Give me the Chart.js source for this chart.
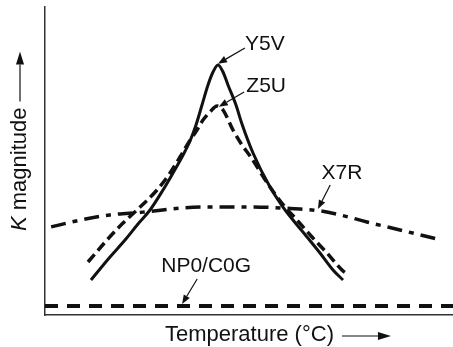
<!DOCTYPE html>
<html>
<head>
<meta charset="utf-8">
<script src="https://cdn.jsdelivr.net/npm/chart.js@4.4.1/dist/chart.umd.min.js"></script>
<style>
  html, body { margin: 0; padding: 0; background: #fff; }
</style>
</head>
<body>
<canvas id="kChart" width="453" height="347"></canvas>
<script>
// Relative K vs temperature for the ceramic dielectric classes (arbitrary units, 0-100)
const y5vTemp = [11.27, 15.93, 19.61, 22.79, 25.74, 28.92, 31.37, 33.58, 35.54, 37.01, 38.48, 39.95, 41.18, 42.40,
                 43.63, 44.85, 46.81, 48.28, 50.98, 55.15, 58.33, 60.78, 64.22, 67.40, 70.59, 73.04];
const y5vK    = [11.36, 18.83, 24.35, 29.55, 34.09, 40.58, 46.10, 51.30, 56.49, 61.69, 68.18, 74.68, 78.90, 81.17,
                 78.90, 74.68, 68.18, 62.01, 52.60, 41.56, 35.06, 30.84, 25.32, 20.13, 14.61, 11.36];

const z5uTemp = [10.54, 15.20, 19.12, 22.55, 27.45, 30.64, 33.09, 35.29, 37.25, 38.73, 40.44, 42.16,
                 43.63, 46.08, 48.28, 50.25, 55.15, 58.82, 61.76, 65.44, 69.12, 72.79, 74.02];
const z5uK    = [17.21, 24.35, 29.87, 34.09, 40.58, 46.10, 51.30, 56.17, 60.06, 63.31, 65.91, 67.86,
                 66.56, 60.06, 55.19, 51.62, 41.56, 35.06, 30.84, 25.32, 20.13, 14.61, 13.31];

const x7rTemp = [1.5, 8.6, 15.9, 24.0, 33.1, 42.2, 50.2, 58.3, 67.4, 73.5, 78.9, 87.0, 96.1];
const x7rK    = [28.6, 30.8, 32.5, 33.4, 34.7, 35.1, 35.1, 34.7, 33.8, 32.1, 30.2, 27.6, 24.7];

const np0Temp = [0, 100];
const np0K    = [2.9, 2.9];

const seriesNames = ['Y5V', 'Z5U', 'X7R', 'NP0/C0G'];

function zip(xs, ys) {
    return xs.map((v, i) => ({ x: v, y: ys[i] }));
}

// label text position, arrow tail and arrow tip, in data units
const callouts = [
    { text: seriesNames[0], at: [53.9, 88.0], from: [49.0, 86.7], to: [42.4, 81.6] },
    { text: seriesNames[1], at: [54.2, 74.2], from: [48.8, 72.4], to: [42.6, 67.6] },
    { text: seriesNames[2], at: [72.8, 46.2], from: [69.9, 42.2], to: [66.9, 34.4] },
    { text: seriesNames[3], at: [39.5, 15.7], from: [37.3, 11.7], to: [33.6, 3.6] }
];

const FONT = '"Liberation Sans", Arial, Helvetica, sans-serif';

function arrow(ctx, x0, y0, x1, y1, headLen, headHalf) {
    const a = Math.atan2(y1 - y0, x1 - x0);
    const bx = x1 - headLen * Math.cos(a);
    const by = y1 - headLen * Math.sin(a);
    ctx.beginPath();
    ctx.moveTo(x0, y0);
    ctx.lineTo(bx, by);
    ctx.stroke();
    ctx.beginPath();
    ctx.moveTo(x1, y1);
    ctx.lineTo(bx + headHalf * Math.sin(a), by - headHalf * Math.cos(a));
    ctx.lineTo(bx - headHalf * Math.sin(a), by + headHalf * Math.cos(a));
    ctx.closePath();
    ctx.fill();
}

const labelsPlugin = {
    id: 'curveLabels',
    afterDatasetsDraw(chart) {
        const { ctx, chartArea, scales: { x, y } } = chart;
        ctx.save();
        ctx.fillStyle = '#111';
        ctx.strokeStyle = '#111';
        ctx.lineWidth = 1.2;
        ctx.font = '21px ' + FONT;
        ctx.textAlign = 'center';
        ctx.textBaseline = 'middle';

        callouts.forEach(c => {
            ctx.fillText(c.text, x.getPixelForValue(c.at[0]), y.getPixelForValue(c.at[1]));
            arrow(ctx,
                x.getPixelForValue(c.from[0]), y.getPixelForValue(c.from[1]),
                x.getPixelForValue(c.to[0]), y.getPixelForValue(c.to[1]), 9, 3.5);
        });

        // x axis title with arrow
        ctx.font = '22px ' + FONT;
        const xt = 'Temperature (°C)';
        const tx = chartArea.left + 120;
        const ty = chartArea.bottom + 20;
        ctx.textAlign = 'left';
        ctx.fillText(xt, tx, ty);
        const ax = tx + ctx.measureText(xt).width + 8;
        arrow(ctx, ax, ty + 1, ax + 49, ty + 1, 13, 4);

        // y axis title: italic K, then the rest, rotated
        ctx.translate(chartArea.left - 25, chartArea.bottom - 84);
        ctx.rotate(-Math.PI / 2);
        ctx.font = 'italic 22px ' + FONT;
        ctx.fillText('K', 0, 0);
        let w = ctx.measureText('K').width;
        ctx.font = '22px ' + FONT;
        ctx.fillText(' magnitude', w, 0);
        w += ctx.measureText(' magnitude').width;
        arrow(ctx, w + 6, 0, w + 56, 0, 13, 4);

        ctx.restore();
    }
};

new Chart(document.getElementById('kChart'), {
    type: 'line',
    data: {
        datasets: [
            {
                label: seriesNames[0],
                data: zip(y5vTemp, y5vK),
                borderColor: '#111',
                borderWidth: 3,
                cubicInterpolationMode: 'monotone'
            },
            {
                label: seriesNames[1],
                data: zip(z5uTemp, z5uK),
                borderColor: '#111',
                borderWidth: 3.5,
                borderDash: [10, 5],
                cubicInterpolationMode: 'monotone'
            },
            {
                label: seriesNames[2],
                data: zip(x7rTemp, x7rK),
                borderColor: '#111',
                borderWidth: 3.5,
                borderDash: [15, 7, 5, 7],
                cubicInterpolationMode: 'monotone'
            },
            {
                label: seriesNames[3],
                data: zip(np0Temp, np0K),
                borderColor: '#111',
                borderWidth: 4,
                borderDash: [13, 9]
            }
        ]
    },
    options: {
        responsive: false,
        animation: false,
        layout: { padding: { top: 7, left: 0, right: 0, bottom: 0 } },
        elements: { point: { radius: 0 } },
        plugins: {
            legend: { display: false },
            tooltip: { enabled: false }
        },
        scales: {
            x: {
                type: 'linear',
                min: 0,
                max: 100,
                grid: { display: false },
                ticks: { display: false },
                border: { display: true, color: '#333', width: 1.5 },
                afterFit: s => { s.height = 32; }
            },
            y: {
                type: 'linear',
                min: 0,
                max: 100,
                grid: { display: false },
                ticks: { display: false },
                border: { display: true, color: '#333', width: 1.5 },
                afterFit: s => { s.width = 45; }
            }
        }
    },
    plugins: [labelsPlugin]
});
</script>
</body>
</html>
